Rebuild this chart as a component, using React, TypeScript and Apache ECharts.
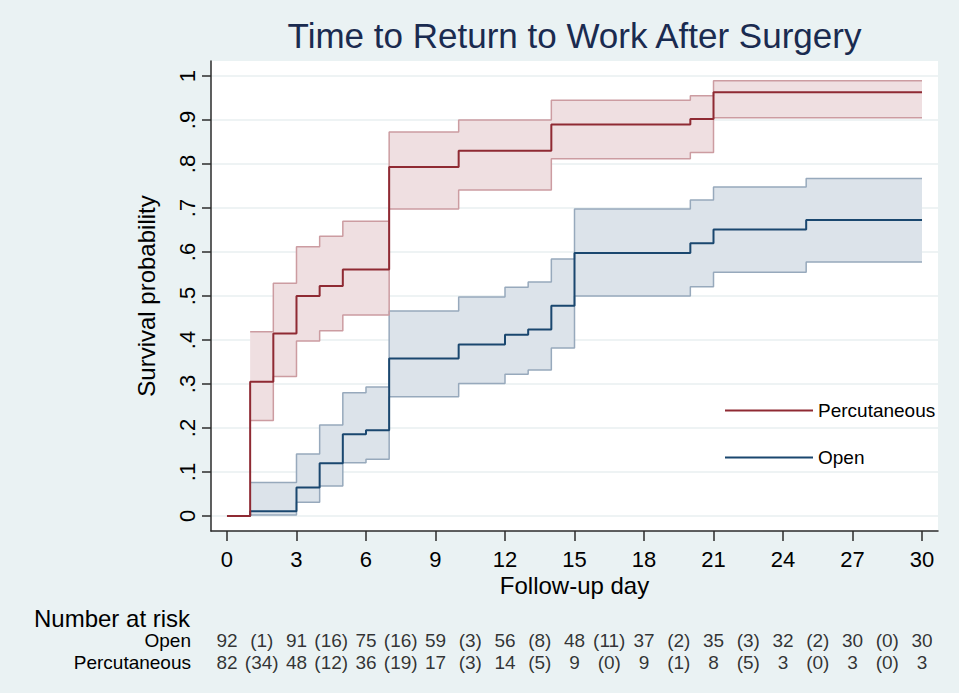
import React, { useEffect, useRef } from "react";
import * as echarts from "echarts";

// ---- axes ----
const xTicks = [0, 3, 6, 9, 12, 15, 18, 21, 24, 27, 30];
const yTicks = [0, 0.1, 0.2, 0.3, 0.4, 0.5, 0.6, 0.7, 0.8, 0.9, 1];
const yTickLabels = ["0", ".1", ".2", ".3", ".4", ".5", ".6", ".7", ".8", ".9", "1"];

// ---- Percutaneous (failure function) ----
const percTimes = [0, 1, 2, 3, 4, 5, 7, 10, 14, 20, 21, 30];
const percSurv = [0, 0.305, 0.415, 0.5, 0.523, 0.56, 0.793, 0.83, 0.89, 0.902, 0.963, 0.963];
const percCiTimes = [1, 2, 3, 4, 5, 7, 10, 14, 20, 21, 30];
const percLower = [0.217, 0.317, 0.398, 0.421, 0.457, 0.698, 0.741, 0.812, 0.826, 0.905, 0.905];
const percUpper = [0.419, 0.529, 0.612, 0.636, 0.67, 0.873, 0.9, 0.945, 0.955, 0.989, 0.989];

// ---- Open ----
const openTimes = [0, 1, 3, 4, 5, 6, 7, 10, 12, 13, 14, 15, 20, 21, 25, 30];
const openSurv = [0, 0.011, 0.065, 0.12, 0.186, 0.195, 0.358, 0.39, 0.412, 0.424, 0.478, 0.598, 0.62, 0.651, 0.673, 0.673];
const openCiTimes = [1, 3, 4, 5, 6, 7, 10, 12, 13, 14, 15, 20, 21, 25, 30];
const openLower = [0.002, 0.031, 0.068, 0.121, 0.129, 0.271, 0.301, 0.322, 0.332, 0.382, 0.5, 0.521, 0.554, 0.577, 0.577];
const openUpper = [0.076, 0.141, 0.207, 0.28, 0.293, 0.466, 0.498, 0.52, 0.532, 0.584, 0.698, 0.718, 0.748, 0.767, 0.767];

// ---- number at risk table ----
const riskTimes = [0, 3, 6, 9, 12, 15, 18, 21, 24, 27, 30];
const eventTimes = [1.5, 4.5, 7.5, 10.5, 13.5, 16.5, 19.5, 22.5, 25.5, 28.5];
const openAtRisk = [92, 91, 75, 59, 56, 48, 37, 35, 32, 30, 30];
const openEvents = [1, 16, 16, 3, 8, 11, 2, 3, 2, 0];
const percAtRisk = [82, 48, 36, 17, 14, 9, 9, 8, 3, 3, 3];
const percEvents = [34, 12, 19, 3, 5, 0, 1, 5, 0, 0];
const tableRows = ["Percutaneous", "Open"];

const FONT = "'Liberation Sans', Arial, Helvetica, sans-serif";
const BG = "#EAF2F3";
const RED = "#8F2A33";
const BLUE = "#1A476F";

function bandPoints(api: any, times: number[], lower: number[], upper: number[]) {
  const pts: number[][] = [];
  const n = times.length;
  for (let i = 0; i < n; i++) {
    pts.push(api.coord([times[i], upper[i]]));
    if (i < n - 1) pts.push(api.coord([times[i + 1], upper[i]]));
  }
  for (let i = n - 1; i >= 0; i--) {
    if (i < n - 1) pts.push(api.coord([times[i + 1], lower[i]]));
    pts.push(api.coord([times[i], lower[i]]));
  }
  return pts;
}

function bandSeries(name: string, times: number[], lower: number[], upper: number[], fill: string) {
  return {
    name,
    type: "custom",
    xAxisIndex: 0,
    yAxisIndex: 0,
    silent: true,
    data: [[times[0], lower[0]]],
    renderItem: (_p: any, api: any) => ({
      type: "polygon",
      shape: { points: bandPoints(api, times, lower, upper) },
      style: { fill, stroke: "none" },
    }),
  };
}

function stepLine(name: string, times: number[], vals: number[], color: string, width: number) {
  return {
    name,
    type: "line",
    step: "end",
    symbol: "none",
    showSymbol: false,
    silent: true,
    xAxisIndex: 0,
    yAxisIndex: 0,
    data: times.map((t, i) => [t, vals[i]]),
    lineStyle: { color, width },
    itemStyle: { color },
    emphasis: { disabled: true },
  };
}

function tableSeries(row: string, atRisk: number[], events: number[]) {
  const data: any[] = [];
  riskTimes.forEach((t, i) => data.push([t, row, String(atRisk[i])]));
  eventTimes.forEach((t, i) => data.push([t, row, "(" + events[i] + ")"]));
  return {
    name: "risk-" + row,
    type: "scatter",
    xAxisIndex: 1,
    yAxisIndex: 1,
    silent: true,
    symbolSize: 1,
    itemStyle: { color: "rgba(0,0,0,0)" },
    data,
    label: {
      show: true,
      position: "inside",
      formatter: (p: any) => p.value[2],
      fontSize: 19,
      color: "#000",
      fontFamily: FONT,
    },
  };
}

export default function App() {
  const ref = useRef<HTMLDivElement>(null);
  useEffect(() => {
    document.body.style.margin = "0";
    if (!ref.current) return;
    const chart = echarts.init(ref.current, undefined, { renderer: "svg" });
    const axisColor = "#2b2b2b";
    chart.setOption({
      animation: false,
      backgroundColor: BG,
      textStyle: { fontFamily: FONT },
      title: {
        text: "Time to Return to Work After Surgery",
        left: 574.5,
        textAlign: "center",
        top: 18,
        padding: 0,
        textStyle: { fontSize: 35, fontWeight: "normal", color: "#1A2B50", fontFamily: FONT },
      },
      legend: {
        data: [
          { name: "Percutaneous", icon: "rect" },
          { name: "Open", icon: "rect" },
        ],
        orient: "vertical",
        left: 725,
        top: 401,
        padding: 0,
        itemWidth: 88,
        itemHeight: 2,
        itemGap: 28,
        selectedMode: false,
        textStyle: { fontSize: 19, color: "#000", fontFamily: FONT },
      },
      grid: [
        { left: 211, top: 61, width: 727, height: 470, show: true, backgroundColor: "#fff", borderWidth: 0, containLabel: false, outerBoundsMode: "none" },
        { left: 211, top: 629, width: 727, height: 44, containLabel: false, outerBoundsMode: "none" },
      ],
      xAxis: [
        {
          type: "value",
          gridIndex: 0,
          min: -0.69,
          max: 30.69,
          name: "Follow-up day",
          nameLocation: "middle",
          nameGap: 42,
          nameMoveOverlap: false,
          nameTextStyle: { fontSize: 24, color: "#000", fontFamily: FONT },
          axisLine: { show: true, onZero: false, lineStyle: { color: axisColor, width: 1.5 } },
          axisTick: { show: true, length: 10, customValues: xTicks, lineStyle: { color: axisColor, width: 1.5 } },
          axisLabel: { customValues: xTicks, fontSize: 22, color: "#000", margin: 17, fontFamily: FONT },
          splitLine: { show: false },
        },
        { type: "value", gridIndex: 1, min: -0.69, max: 30.69, show: false },
      ],
      yAxis: [
        {
          type: "value",
          gridIndex: 0,
          min: -0.0341,
          max: 1.0341,
          name: "Survival probability",
          nameLocation: "middle",
          nameGap: 53,
          nameMoveOverlap: false,
          nameTextStyle: { fontSize: 24, color: "#000", fontFamily: FONT },
          axisLine: { show: true, onZero: false, lineStyle: { color: axisColor, width: 1.5 } },
          axisTick: { show: true, length: 9, customValues: yTicks, lineStyle: { color: axisColor, width: 1.5 } },
          axisLabel: {
            customValues: yTicks,
            rotate: 90,
            fontSize: 22,
            color: "#000",
            margin: 13,
            fontFamily: FONT,
            formatter: (v: number) => {
              const idx = yTicks.findIndex((t) => Math.abs(t - v) < 1e-6);
              return idx >= 0 ? yTickLabels[idx] : "";
            },
          },
          splitLine: { show: true, lineStyle: { color: "#E8EFF1", width: 1.5 } },
        },
        {
          type: "category",
          gridIndex: 1,
          data: tableRows,
          axisLine: { show: false },
          axisTick: { show: false },
          splitLine: { show: false },
          axisLabel: { interval: 0, hideOverlap: false, fontSize: 19, color: "#000", margin: 20, fontFamily: FONT },
        },
      ],
      graphic: [
        {
          type: "text",
          left: 34,
          top: 606,
          style: { text: "Number at risk", font: "24px " + FONT, fill: "#000" },
        },
      ],
      series: [
        bandSeries("Open CI", openCiTimes, openLower, openUpper, "#DCE3EA"),
        bandSeries("Percutaneous CI", percCiTimes, percLower, percUpper, "#EFDFE1"),
        stepLine("Open lower", openCiTimes, openLower, "#97A9BC", 1.5),
        stepLine("Open upper", openCiTimes, openUpper, "#97A9BC", 1.5),
        stepLine("Percutaneous lower", percCiTimes, percLower, "#CC9CA1", 1.5),
        stepLine("Percutaneous upper", percCiTimes, percUpper, "#CC9CA1", 1.5),
        stepLine("Open", openTimes, openSurv, BLUE, 2),
        stepLine("Percutaneous", percTimes, percSurv, RED, 2),
        tableSeries("Open", openAtRisk, openEvents),
        tableSeries("Percutaneous", percAtRisk, percEvents),
      ],
    });
    return () => chart.dispose();
  }, []);
  return <div ref={ref} style={{ width: 959, height: 693, background: BG }} />;
}
